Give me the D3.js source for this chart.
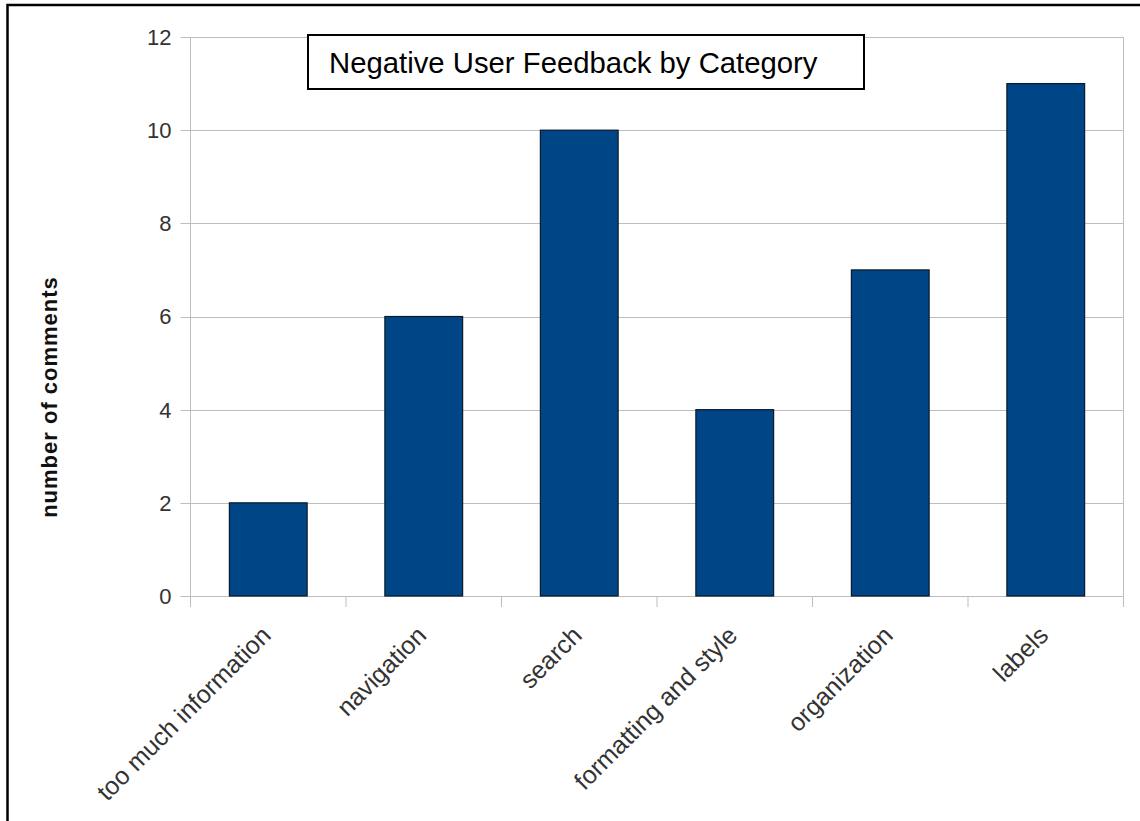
<!DOCTYPE html>
<html lang="en">
<head>
    <meta charset="UTF-8">
    <title>Negative User Feedback by Category</title>
    <script src="https://d3js.org/d3.v7.min.js"></script>
    <style>
        body { margin: 0; background: #fff; }
        svg text { font-family: "Liberation Sans", Arial, sans-serif; }
    </style>
</head>
<body>
    <div id="chart"></div>
    <script>
        // data
        const categories = ['too much information', 'navigation', 'search', 'formatting and style', 'organization', 'labels'];
        const comments = [2, 6, 10, 4, 7, 11];
        const yTicks = [0, 2, 4, 6, 8, 10, 12];

        const width = 1140;
        const height = 821;
        const plot = { left: 190.5, right: 1123.5, top: 37, bottom: 596 };

        const svg = d3.select('#chart')
            .append('svg')
            .attr('width', width)
            .attr('height', height);

        // outer frame (only top and left visible in the original crop)
        svg.append('path')
            .attr('d', `M7.5,${height} L7.5,5 L${width},5`)
            .attr('fill', 'none')
            .attr('stroke', '#000')
            .attr('stroke-width', 2.5);

        const x = d3.scaleBand()
            .domain(categories)
            .range([plot.left, plot.right])
            .paddingInner(0.5)
            .paddingOuter(0.25);

        const y = d3.scaleLinear()
            .domain([0, 12])
            .range([plot.bottom, plot.top]);

        const gridColor = '#bdbdbd';

        // horizontal grid lines + left ticks
        svg.append('g')
            .selectAll('line')
            .data(yTicks)
            .enter().append('line')
            .attr('x1', plot.left - 10)
            .attr('x2', plot.right)
            .attr('y1', d => Math.round(y(d)) + 0.5)
            .attr('y2', d => Math.round(y(d)) + 0.5)
            .attr('stroke', gridColor)
            .attr('stroke-width', 1);

        // y axis line and right border of plot area
        [plot.left, plot.right].forEach(function (px) {
            svg.append('line')
                .attr('x1', px).attr('x2', px)
                .attr('y1', plot.top).attr('y2', plot.bottom)
                .attr('stroke', gridColor);
        });

        // x ticks at band boundaries
        const step = x.step();
        const boundaries = d3.range(categories.length + 1).map(i => plot.left + i * step);
        svg.append('g')
            .selectAll('line')
            .data(boundaries)
            .enter().append('line')
            .attr('x1', d => d).attr('x2', d => d)
            .attr('y1', plot.bottom)
            .attr('y2', plot.bottom + 11)
            .attr('stroke', gridColor);

        // y tick labels
        svg.append('g')
            .selectAll('text')
            .data(yTicks)
            .enter().append('text')
            .attr('x', plot.left - 19)
            .attr('y', d => y(d))
            .attr('dy', '0.36em')
            .attr('text-anchor', 'end')
            .attr('font-size', 22)
            .attr('fill', '#333')
            .text(d => d);

        // bars
        svg.append('g')
            .selectAll('rect')
            .data(comments)
            .enter().append('rect')
            .attr('x', (d, i) => x(categories[i]))
            .attr('y', d => y(d))
            .attr('width', x.bandwidth())
            .attr('height', d => y(0) - y(d))
            .attr('fill', '#004586')
            .attr('stroke', '#0a1a2a')
            .attr('stroke-width', 1.2);

        // rotated category labels
        svg.append('g')
            .selectAll('text')
            .data(categories)
            .enter().append('text')
            .attr('transform', d => `translate(${x(d) + x.bandwidth() / 2 + 4},${plot.bottom + 41}) rotate(-45)`)
            .attr('text-anchor', 'end')
            .attr('font-size', 25)
            .attr('fill', '#333')
            .text(d => d);

        // y axis title
        svg.append('text')
            .attr('transform', 'translate(57,397) rotate(-90)')
            .attr('text-anchor', 'middle')
            .attr('font-size', 22)
            .attr('font-weight', 'bold')
            .attr('letter-spacing', 1)
            .attr('fill', '#111')
            .text('number of comments');

        // title box
        svg.append('rect')
            .attr('x', 308)
            .attr('y', 35)
            .attr('width', 556)
            .attr('height', 54)
            .attr('fill', '#fff')
            .attr('stroke', '#000')
            .attr('stroke-width', 2);

        svg.append('text')
            .attr('x', 329)
            .attr('y', 73)
            .attr('font-size', 29.3)
            .attr('fill', '#000')
            .text('Negative User Feedback by Category');
    </script>
</body>
</html>
